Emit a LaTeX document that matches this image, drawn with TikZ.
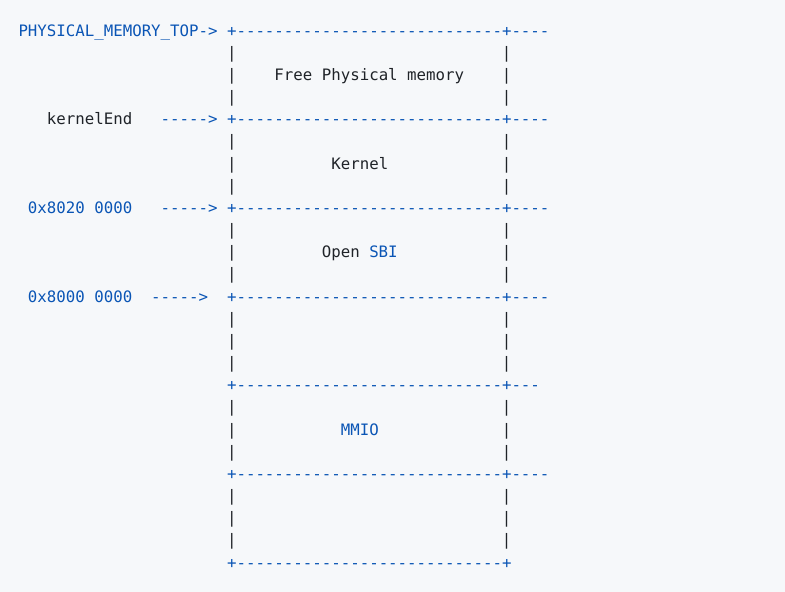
\documentclass[tikz,border=0pt]{standalone}
\usepackage{fontspec}
\setmonofont{DejaVu Sans Mono}
\definecolor{bgc}{HTML}{F6F8FA}
\definecolor{txt}{HTML}{1F2328}
\definecolor{kw}{HTML}{0A55B5}
\tikzset{
  tok/.style={anchor=base west, inner sep=0pt, outer sep=0pt, font=\ttfamily\fontsize{15.75}{19}\selectfont, text=txt},
  op/.style={tok, text=kw},
}
\newcommand\brd{+----------------------------+}
\begin{document}
\begin{tikzpicture}
\fill[bgc] (0pt,0pt) rectangle (785pt,-592pt);
\useasboundingbox (0pt,0pt) rectangle (785pt,-592pt);
\begin{scope}[shift={(18.5pt,-36pt)}, x=9.48pt, y=-22.17pt]
% row 0
\node[op] (top) at (0,0) {PHYSICAL\_MEMORY\_TOP->};
\node[op] (b0) at (22,0) {\brd----};
\foreach \r in {1,2,3,5,6,7,9,10,11,13,14,15,17,18,19,21,22,23}{
  \node[tok] (l\r) at (22,\r) {|};
  \node[tok] (r\r) at (51,\r) {|};
}
\node[tok] (free) at (27,2) {Free Physical memory};
% row 4
\node[tok] (kend) at (3,4) {kernelEnd};
\node[op] (a4) at (15,4) {----->};
\node[op] (b4) at (22,4) {\brd----};
\node[tok] (kernel) at (33,6) {Kernel};
% row 8
\node[op] (h1) at (1,8) {0x8020 0000};
\node[op] (a8) at (15,8) {----->};
\node[op] (b8) at (22,8) {\brd----};
\node[tok] (open) at (32,10) {Open};
\node[op] (sbi) at (37,10) {SBI};
% row 12
\node[op] (h2) at (1,12) {0x8000 0000};
\node[op] (a12) at (14,12) {----->};
\node[op] (b12) at (22,12) {\brd----};
% row 16
\node[op] (b16) at (22,16) {\brd---};
\node[op] (mmio) at (34,18) {MMIO};
\node[op] (b20) at (22,20) {\brd----};
\node[op] (b24) at (22,24) {\brd};
\end{scope}
\end{tikzpicture}
\end{document}
